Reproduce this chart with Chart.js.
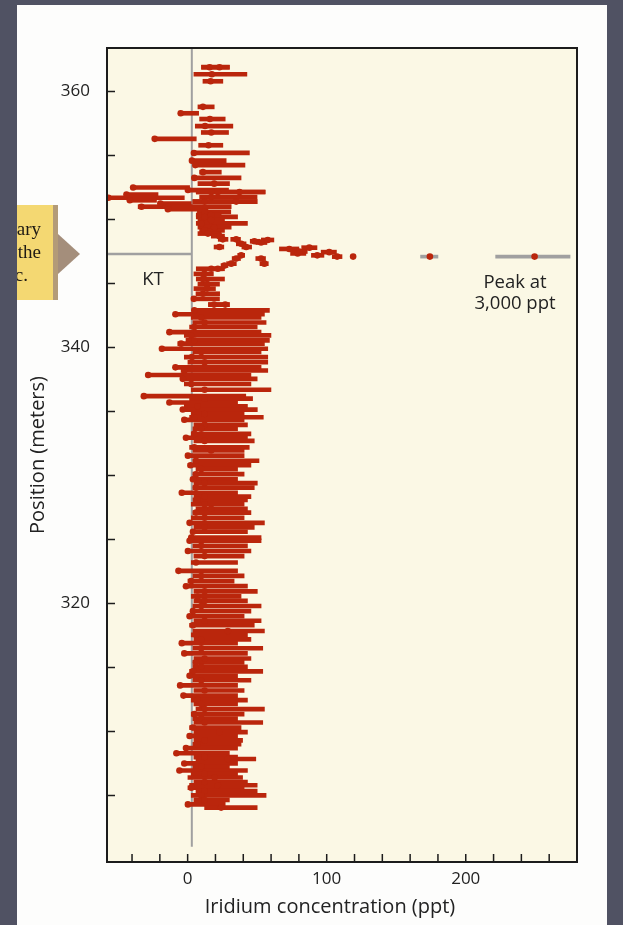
<!DOCTYPE html>
<html>
<head>
<meta charset="utf-8">
<script src="https://cdn.jsdelivr.net/npm/chart.js@4.4.1/dist/chart.umd.min.js"></script>
<style>
  html, body { margin: 0; padding: 0; background: #505263; }
  #wrap { width: 623px; height: 925px; position: relative; }
</style>
</head>
<body>
<div id="wrap"><canvas id="iridium"></canvas></div>
<script>
// iridium profile across the KT boundary

// position of each sample (m), top of the section first
const positions = [
  // above KT
  361.9, 361.9, 361.35, 360.8, 358.8, 358.3, 357.85, 357.3, 356.8, 356.3,
  355.8, 355.2, 354.6, 354.25, 353.7, 353.25, 352.8, 352.5, 352.3, 352.15,
  352.15, 351.95, 351.7, 351.75, 351.5, 351.4, 351.4, 351.25, 351.0, 351.0,
  350.8, 350.6, 350.35, 350.2, 349.95, 349.7, 349.4, 349.15, 348.9, 348.7,
  // spike at the boundary
  348.45, 348.45, 348.1, 347.85, 348.3, 348.2, 348.4, 347.85, 347.7, 347.35,
  347.8, 347.5, 347.2, 347.45, 347.1, 347.1,
  346.15, 346.4, 346.55, 346.95, 347.2, 346.95, 346.55,
  // below KT
  346.15, 345.75, 345.35, 344.95, 344.6, 344.2, 343.8, 343.35, 343.35, 342.9,
  342.6, 342.35, 341.95, 341.6, 341.2, 340.95, 340.55, 340.3, 339.9, 339.65,
  339.25, 338.85, 338.45, 338.2, 337.85, 337.55, 337.15, 336.7, 336.2, 336.0,
  335.7, 335.4, 335.15, 334.8, 334.55, 334.35, 333.95, 333.65, 333.25, 332.95,
  332.7, 332.2, 331.95, 331.55, 331.15, 330.8, 330.5, 330.1, 329.7, 329.4,
  329.05, 328.65, 328.35, 328.1, 327.75, 327.4, 327.1, 326.7, 326.3, 325.95,
  325.6, 325.15, 324.9, 324.5, 324.1, 323.7, 323.2, 322.55, 322.15, 321.75,
  321.35, 320.95, 320.55, 320.2, 319.8, 319.4, 319.0, 318.65, 318.3, 317.85,
  317.55, 317.2, 316.9, 316.5, 316.1, 315.7, 315.4, 315.05, 314.7, 314.35,
  314.0, 313.6, 313.2, 312.8, 312.45, 312.15, 311.75, 311.35, 311.0, 310.7,
  310.3, 309.95, 309.65, 309.3, 309.0, 308.7, 308.3, 308.0, 307.85, 307.5,
  307.25, 306.95, 306.7, 306.4, 306.05, 305.8, 305.6, 305.35, 305.0, 304.65,
  304.3, 304.05
]

// measured iridium (ppt)
const iridium = [
  15.8, 22.9, 17.4, 16.5, 11, -5, 16, 12.5, 17, -23.7,
  15, 4.5, 3.1, 5.5, 11, 4.8, 19.1, -39.2, 0.2, 21.7,
  37.3, -44, -57, 17, -41.6, 12.2, 34.9, -19.6, -33.2, -14.1,
  -14.2, 12.2, 16.9, 12.2, 16.9, 9.8, 19.1, 12.2, 14.6, 22.9,
  25.3, 34.9, 38.5, 42.1, 48, 52.8, 57.6, 22.9, 73.1, 79.1,
  87.5, 80.3, 93.2, 101.8, 107.5, 119,
  21.7, 26.5, 31.3, 34.9, 38.5, 52.8, 55.2,
  17, 12, 11, 14, 14, 11, 4.5, 19, 27, 4.8,
  -8.8, 9.8, 12.2, 4.8, -13.1, 2.6, 4.8, -4.7, -18.5, 9.8,
  3.1, 12.2, -8.8, -2.4, -28.4, -3.5, 2.6, 12.2, -31.5, 12.2,
  -13.1, 7.2, -3.5, 12.2, 4.8, -2.4, 12.2, 9.8, 4.8, -1.2,
  12.2, 4.8, 16.9, 0.2, 6, 2.1, 9.8, 6, 3.8, 12.2,
  6, -4.2, 12.2, 7.2, 12.2, 16.9, 6, 12.2, 1.4, 12.2,
  3.8, 2.6, 1.4, 9.8, 0.2, 12.2, 6, -6.6, 9.8, 2.6,
  -1.2, 12.2, 7.2, 12.2, 9.8, 3.8, 1.4, 12.2, 3.8, 28.9,
  6, 9.8, -4.2, 9.8, -2.4, 12.2, 6, 9.8, 3.8, 1.4,
  9.8, -5.4, 12.2, -3, 7.2, 9.8, 12.2, 4.8, 9.8, 12.2,
  3.8, 22.9, 1.4, 12.2, 7.2, -1.2, -8.1, 12.2, 28.9, -2.4,
  9.8, -5.9, 12.2, 19.4, 12.2, 21.7, 2.6, 12.2, 9.8, 12.2,
  0.2, 24.1
]

// error bar ends (ppt)
const lowerEnd = [
  10, 10, 4.5, 11, 7.4, -5.7, 8.6, 5.5, 9.8, -23.7,
  7.9, 3.8, 2.6, 4.5, 8.6, 3.8, 7.4, -39.2, 0.2, 6.2,
  6.2, -44, -57, 8.6, -41.6, 3.8, 3.8, -21.3, -35.6, -17.7,
  -15.3, 7, 6.2, 6.2, 7.4, 6.2, 7.4, 8.6, 7.4, 17,
  22, 31, 35, 39, 45, 49, 53, 19, 66, 74,
  82, 75, 89, 96, 104, 119,
  19, 24, 28, 32, 36, 49, 52,
  6.2, 4.5, 6.2, 7.4, 4.5, 6, 2.6, 15, 15, 3.8,
  -8.8, 2.6, 3.8, 1.4, -13.1, -2.4, -1.2, -7.1, -19, 3.8,
  -2.4, 0.2, -9.5, -4.7, -28.4, -4.7, -2.4, 2.6, -32, 1.4,
  -14.2, -2.4, -4.7, 2.6, 1.4, -3.5, 4.5, 3.8, 2.6, -2.4,
  4.5, 1.4, 3.8, -1.2, 3.8, 0.2, 6, 3.8, 2.6, 4.5,
  3.8, -4.7, 4.5, 3.8, 2.6, 6, 3.8, 2.6, 0.2, 4.5,
  2.6, 1.4, 0.2, 3.8, -1.2, 4.5, 2.6, -7.1, 3.8, 0.2,
  -2.4, 4.5, 2.6, 4.5, 3.8, 2.6, 0.2, 4.5, 1.4, 3.8,
  2.6, 4.5, -4.7, 3.8, -3, 4.5, 3.8, 3.8, 1.4, 0.2,
  3.8, -5.9, 4.5, -3.5, 2.6, 4.5, 6, 2.6, 3.8, 4.5,
  1.4, 4.5, 0.2, 4.5, 3.8, -2.4, -8.8, 4.5, 6, -3.5,
  3.8, -7.1, 2.6, 0.2, 4.5, 1.4, 0.2, 6, 2.6, 4.5,
  -1.2, 12.2
]
const upperEnd = [
  30, 30, 42.6, 25.3, 19.1, 7.9, 27, 32.5, 29.4, 6.2,
  25.3, 44.4, 27.7, 41.2, 24.2, 38.4, 30.1, 1.4, 29.4, 55.7,
  55.7, -21.3, -2.4, 49.9, -22.4, 49.9, 49.9, 2.6, -17.7, 31.3,
  14.6, 31, 24.1, 35.9, 26.5, 43, 31.3, 26.5, 24.1, 26.5,
  29, 38, 42, 46, 52, 57, 62, 26, 80, 85,
  93, 86, 98, 107, 111, 119,
  25, 29, 35, 38, 41, 56, 58,
  26.5, 18.5, 26.5, 22.9, 20, 23, 22.9, 30, 30, 58.8,
  55.2, 52.8, 56.4, 50, 52.8, 59.9, 58.8, 55.2, 57.6, 52.8,
  57.6, 57.6, 52.8, 57.6, 45.5, 50, 45.5, 59.9, 41.8, 46.7,
  35.9, 43, 50.1, 40.6, 54.4, 40.6, 43, 35.9, 45.5, 43,
  47.9, 44.3, 40.6, 40.6, 51.3, 45.5, 35.9, 40.6, 35.9, 50.1,
  47.9, 35.9, 45.5, 43, 40.6, 43, 45.5, 40.6, 55.2, 47.9,
  43, 52.8, 52.8, 43, 45.5, 40.6, 35.9, 35.9, 40.6, 33.4,
  43, 50.1, 38.4, 43, 52.8, 45.5, 40.6, 52.8, 47.9, 55.2,
  43, 45.5, 35.9, 54, 43, 45.5, 40.6, 43, 54, 35.9,
  45.5, 35.9, 40.6, 35.9, 43, 35.9, 55.2, 40.6, 35.9, 54,
  38.4, 43, 35.9, 39.5, 38.4, 35.9, 30, 35.9, 49, 35.9,
  30, 43, 35.9, 39.5, 43, 50, 40.6, 50, 56.4, 30,
  27, 50
]

// off-scale samples (the 3,000 ppt peak is folded onto the right edge)
const peakPositions = [347.1, 347.1]
const peakIridium = [174.2, 249.5]
const peakLower = [167.5, 221.5]
const peakUpper = [180, 275]

const ktLevel = 347.3
const baselineValue = 3
const baselineBottom = 301

const yLabels = [320, 340, 360]
const xLabels = [0, 100, 200]

const red = 'rgb(186, 38, 12)'
const gray = 'rgb(160, 160, 160)'
const textFont = "'Open Sans', sans-serif"

Chart.defaults.font.family = textFont
Chart.defaults.color = '#222'

const barData = positions.map((p, i) => ({ y: p, x: [lowerEnd[i], upperEnd[i]] }))
const peakBarData = peakPositions.map((p, i) => ({ y: p, x: [peakLower[i], peakUpper[i]] }))
const dotData = positions.map((p, i) => ({ x: iridium[i], y: p }))
  .concat(peakPositions.map((p, i) => ({ x: peakIridium[i], y: p })))

// page, tab and plot background
const pagePlugin = {
  id: 'page',
  beforeDraw(chart) {
    const c = chart.ctx
    const a = chart.chartArea
    c.save()
    c.fillStyle = '#505263'
    c.fillRect(0, 0, chart.width, chart.height)
    c.fillStyle = '#fdfdfc'
    c.fillRect(17, 5, 590, chart.height - 5)
    // margin tab
    c.fillStyle = '#f4d872'
    c.fillRect(17, 205, 37, 95)
    c.fillStyle = '#b39b78'
    c.fillRect(53, 205, 5, 95)
    c.fillStyle = '#a48e7b'
    c.beginPath()
    c.moveTo(58, 234)
    c.lineTo(80, 254)
    c.lineTo(58, 274)
    c.closePath()
    c.fill()
    // plot area
    c.fillStyle = '#fbf8e5'
    c.fillRect(a.left, a.top, a.right - a.left, a.bottom - a.top)
    c.restore()
  },
  afterDatasetsDraw(chart) {
    const c = chart.ctx
    const a = chart.chartArea
    const xs = chart.scales.x
    const ys = chart.scales.y
    c.save()
    c.strokeStyle = '#1c1c1c'
    c.lineWidth = 1.5
    // inward ticks
    c.beginPath()
    ys.ticks.forEach(t => {
      const py = ys.getPixelForValue(t.value)
      if (py > a.bottom - 4 || py < a.top + 4) return
      c.moveTo(a.left, py)
      c.lineTo(a.left + 8, py)
    })
    xs.ticks.forEach(t => {
      const px = xs.getPixelForValue(t.value)
      c.moveTo(px, a.bottom)
      c.lineTo(px, a.bottom - 8)
    })
    c.stroke()
    c.lineWidth = 2
    c.strokeRect(a.left, a.top, a.right - a.left, a.bottom - a.top)
    c.restore()
  },
  afterDraw(chart) {
    const c = chart.ctx
    c.save()
    c.fillStyle = '#222'
    c.font = "18.5px " + textFont
    c.textAlign = 'center'
    c.textBaseline = 'alphabetic'
    c.fillText('KT', 153, 285)
    c.fillText('Peak at', 515, 288)
    c.fillText('3,000 ppt', 515, 309)
    c.font = "20px " + textFont
    c.fillText('Iridium concentration (ppt)', 330, 913)
    // cut-off margin note
    c.beginPath()
    c.rect(17, 205, 36, 95)
    c.clip()
    c.font = "19px 'Liberation Serif', serif"
    c.fillStyle = '#1e1a14'
    c.textAlign = 'right'
    c.fillText('ary', 41, 235)
    c.fillText('the', 41, 258)
    c.fillText('c.', 28, 281)
    c.restore()
  }
}

const ctx = document.getElementById('iridium').getContext('2d')

const iridiumChart = new Chart(ctx, {
  type: 'bar',
  data: {
    datasets: [
      {
        type: 'line',
        data: [{ x: -58, y: ktLevel }, { x: baselineValue, y: ktLevel }],
        borderColor: gray,
        borderWidth: 2.5,
        pointRadius: 0,
        order: 5
      },
      {
        type: 'line',
        data: [{ x: baselineValue, y: baselineBottom }, { x: baselineValue, y: 363.4 }],
        borderColor: gray,
        borderWidth: 2,
        pointRadius: 0,
        order: 5
      },
      {
        type: 'bar',
        indexAxis: 'y',
        data: peakBarData,
        backgroundColor: gray,
        barThickness: 3,
        grouped: false,
        order: 4
      },
      {
        type: 'bar',
        indexAxis: 'y',
        data: barData,
        backgroundColor: red,
        barThickness: 4,
        grouped: false,
        order: 3
      },
      {
        type: 'scatter',
        data: dotData,
        pointRadius: 3.3,
        pointBackgroundColor: red,
        pointBorderWidth: 0,
        order: 1
      }
    ]
  },
  options: {
    responsive: true,
    maintainAspectRatio: false,
    animation: false,
    events: [],
    layout: { padding: { left: 0, top: 48, right: 46, bottom: 0 } },
    plugins: {
      legend: { display: false },
      tooltip: { enabled: false }
    },
    scales: {
      x: {
        type: 'linear',
        min: -58,
        max: 280,
        offset: false,
        grid: { display: false, drawTicks: false, offset: false },
        border: { display: false },
        ticks: {
          stepSize: 20,
          includeBounds: false,
          autoSkip: false,
          maxRotation: 0,
          padding: 7,
          font: { size: 17 },
          color: '#222',
          callback: v => xLabels.includes(v) ? String(v) : ''
        },
        afterFit: s => { s.height = 63 }
      },
      y: {
        type: 'linear',
        min: 299.8,
        max: 363.4,
        offset: false,
        grid: { display: false, drawTicks: false, offset: false },
        border: { display: false },
        ticks: {
          stepSize: 5,
          includeBounds: false,
          autoSkip: false,
          padding: 17,
          font: { size: 17 },
          color: '#222',
          callback: v => yLabels.includes(v) ? String(v) : ''
        },
        title: {
          display: true,
          text: 'Position (meters)',
          font: { size: 20 },
          color: '#222',
          padding: { top: 26, bottom: 0 }
        },
        afterFit: s => { s.width = 107 }
      }
    }
  },
  plugins: [pagePlugin]
})
</script>
</body>
</html>
